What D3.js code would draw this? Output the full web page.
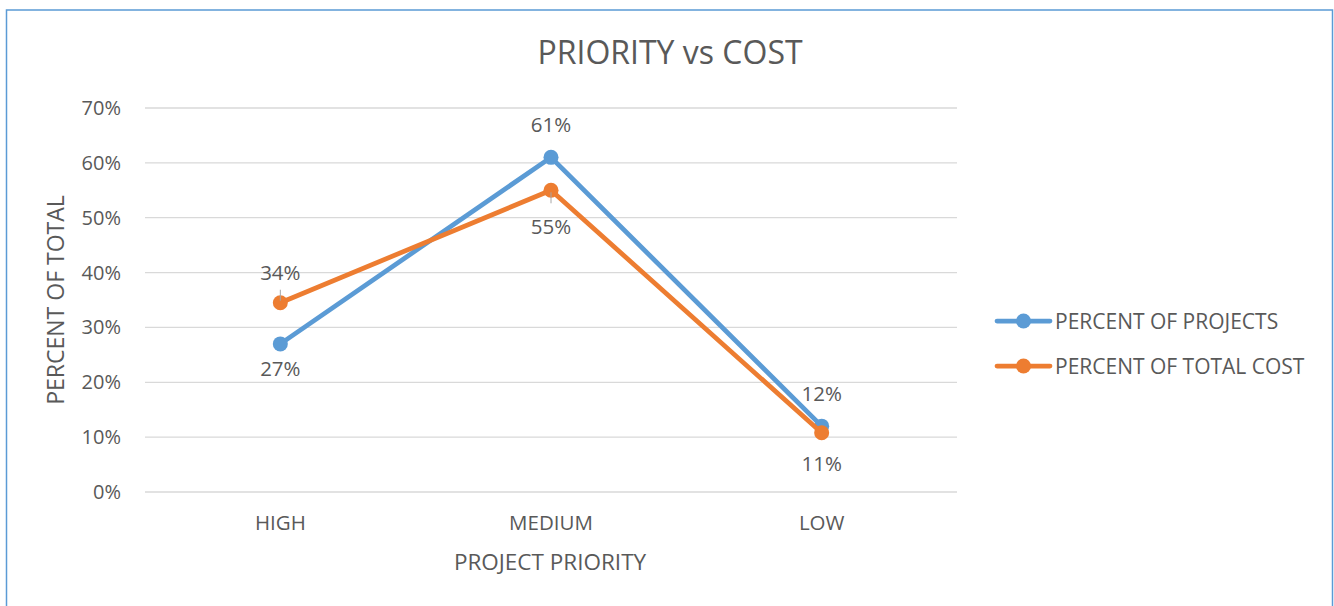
<!DOCTYPE html>
<html>
<head>
<meta charset="utf-8">
<script src="https://cdn.jsdelivr.net/npm/d3@7"></script>
<style>
  body { margin: 0; background: #fff; }
  text { font-family: "Open Sans", sans-serif; fill: #595959; }
</style>
</head>
<body>
<div id="chart"></div>
<script>
// Chart data
const categories = ["HIGH", "MEDIUM", "LOW"];
const seriesNames = ["PERCENT OF PROJECTS", "PERCENT OF TOTAL COST"];
const projectsPct = [0.27, 0.61, 0.12];
const costPct = [0.345, 0.55, 0.108];
const projectsLabels = ["27%", "61%", "12%"];
const costLabels = ["34%", "55%", "11%"];
const projectsLabelPos = ["below", "above", "above"];
const costLabelPos = ["above", "below", "below"];
const yTicks = [0, 0.1, 0.2, 0.3, 0.4, 0.5, 0.6, 0.7];

const colors = ["#5b9bd5", "#ed7d31"];

const width = 1334, height = 606;
const plot = { left: 145, right: 957, top: 108, bottom: 492 };

const svg = d3.select("#chart")
  .append("svg")
  .attr("width", width)
  .attr("height", height);

// Chart border
svg.append("rect")
  .attr("x", 6.5)
  .attr("y", 10)
  .attr("width", 1326)
  .attr("height", 620)
  .attr("fill", "none")
  .attr("stroke", "#5b9bd5")
  .attr("stroke-width", 1.5);

const x = d3.scalePoint()
  .domain(categories)
  .range([plot.left, plot.right])
  .padding(0.5);

const y = d3.scaleLinear()
  .domain([0, 0.7])
  .range([plot.bottom, plot.top]);

// Gridlines
svg.append("g")
  .selectAll("line")
  .data(yTicks)
  .enter()
  .append("line")
  .attr("x1", plot.left)
  .attr("x2", plot.right)
  .attr("y1", (d) => y(d))
  .attr("y2", (d) => y(d))
  .attr("stroke", "#d9d9d9")
  .attr("stroke-width", 1.3);

// Y axis labels
svg.append("g")
  .selectAll("text")
  .data(yTicks)
  .enter()
  .append("text")
  .attr("x", 121)
  .attr("y", (d) => y(d) + 7)
  .attr("text-anchor", "end")
  .style("font-size", "20px")
  .text((d) => d3.format(".0%")(d));

// X axis labels
svg.append("g")
  .selectAll("text")
  .data(categories)
  .enter()
  .append("text")
  .attr("x", (d) => x(d))
  .attr("y", 530)
  .attr("text-anchor", "middle")
  .style("font-size", "20.5px")
  .text((d) => d);

// Title
svg.append("text")
  .attr("x", 670)
  .attr("y", 64)
  .attr("text-anchor", "middle")
  .style("font-size", "32px")
  .text("PRIORITY vs COST");

// Axis titles
svg.append("text")
  .attr("x", 550)
  .attr("y", 570)
  .attr("text-anchor", "middle")
  .style("font-size", "22.5px")
  .text("PROJECT PRIORITY");

svg.append("text")
  .attr("transform", "translate(64,300) rotate(-90)")
  .attr("text-anchor", "middle")
  .style("font-size", "23px")
  .text("PERCENT OF TOTAL");

const series = [
  { name: seriesNames[0], values: projectsPct, labels: projectsLabels, pos: projectsLabelPos, color: colors[0] },
  { name: seriesNames[1], values: costPct, labels: costLabels, pos: costLabelPos, color: colors[1] }
];

const line = d3.line()
  .x((d, i) => x(categories[i]))
  .y((d) => y(d));

series.forEach((s) => {
  svg.append("path")
    .datum(s.values)
    .attr("d", line)
    .attr("fill", "none")
    .attr("stroke", s.color)
    .attr("stroke-width", 4.75)
    .attr("stroke-linejoin", "round")
    .attr("stroke-linecap", "round");

  svg.append("g")
    .selectAll("circle")
    .data(s.values)
    .enter()
    .append("circle")
    .attr("cx", (d, i) => x(categories[i]))
    .attr("cy", (d) => y(d))
    .attr("r", 7.5)
    .attr("fill", s.color);
});

// Leader lines for the two labels that sit a bit off their points
["HIGH", "MEDIUM"].forEach((cat) => {
  const i = categories.indexOf(cat);
  const py = y(costPct[i]);
  const dir = costLabelPos[i] === "above" ? -1 : 1;
  svg.append("line")
    .attr("x1", x(cat))
    .attr("x2", x(cat))
    .attr("y1", py + dir * 2)
    .attr("y2", py + dir * 13)
    .attr("stroke", "#a6a6a6")
    .attr("stroke-width", 1);
});

// Data labels
series.forEach((s) => {
  svg.append("g")
    .selectAll("text")
    .data(s.values)
    .enter()
    .append("text")
    .attr("x", (d, i) => x(categories[i]))
    .attr("y", (d, i) => {
      const py = y(d);
      if (s === series[1] && i === 0) return py - 23;
      if (s === series[1] && i === 1) return py + 44;
      if (s === series[1] && i === 2) return py + 38;
      return s.pos[i] === "above" ? py - 25 : py + 32;
    })
    .attr("text-anchor", "middle")
    .style("font-size", "20.5px")
    .text((d, i) => s.labels[i]);
});

// Legend
const legend = svg.append("g").attr("transform", "translate(997,321)");
series.forEach((s, i) => {
  const g = legend.append("g").attr("transform", `translate(0,${i * 45})`);
  g.append("line")
    .attr("x1", 0)
    .attr("x2", 53)
    .attr("stroke", s.color)
    .attr("stroke-width", 4.75)
    .attr("stroke-linecap", "round");
  g.append("circle")
    .attr("cx", 26.5)
    .attr("r", 7.5)
    .attr("fill", s.color);
  g.append("text")
    .attr("x", 58)
    .attr("y", 7.5)
    .style("font-size", "21px")
    .text(s.name);
});
</script>
</body>
</html>
